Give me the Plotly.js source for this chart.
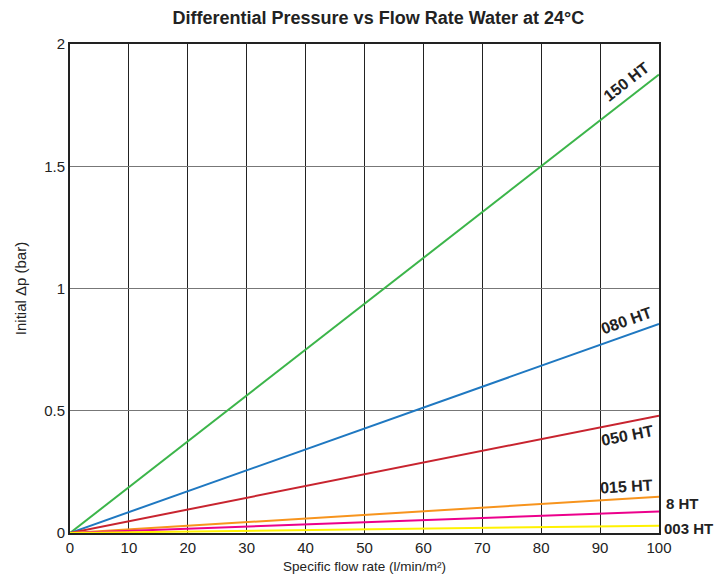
<!DOCTYPE html>
<html>
<head>
<meta charset="utf-8">
<script src="https://cdn.plot.ly/plotly-3.0.1.min.js"></script>
<style>html,body{margin:0;padding:0;background:#fff;}#chart{width:718px;height:580px;}</style>
</head>
<body>
<div id="chart"></div>
<script>
const flowRate = [0, 100];
const seriesNames = ["150 HT", "080 HT", "050 HT", "015 HT", "8 HT", "003 HT"];
const dp150 = [0, 1.875];
const dp080 = [0, 0.855];
const dp050 = [0, 0.48];
const dp015 = [0, 0.148];
const dp8 = [0, 0.088];
const dp003 = [0, 0.03];
const colors = ["#3cb54a", "#1f78c1", "#c8242f", "#f7941d", "#ec008c", "#fff200"];
const xTicks = [0,10,20,30,40,50,60,70,80,90,100];
const yTicks = [0,0.5,1,1.5,2];
const yTickText = ["0","0.5","1","1.5","2"];

const allY = [dp150, dp080, dp050, dp015, dp8, dp003];
const traces = allY.map((y,i)=>({
  x: flowRate, y: y, mode: "lines", name: seriesNames[i],
  line: {color: colors[i], width: 2}, hoverinfo: "x+y"
}));

const font = "'Liberation Sans', Arial, sans-serif";
const lblFont = {family: font, size: 16, color: "#222", weight: "bold"};
const sideFont = {family: font, size: 15, color: "#222", weight: "bold"};
const annotations = [
  {x: 95, y: 1.875*0.95, text: "150 HT", textangle: -38, xshift: -3, yshift: 16},
  {x: 95, y: 0.855*0.95, text: "080 HT", textangle: -19.5, xshift: -3, yshift: 14},
  {x: 95, y: 0.48*0.95, text: "050 HT", textangle: -11, xshift: -2, yshift: -14},
  {x: 95, y: 0.148*0.95, text: "015 HT", textangle: -3.5, xshift: -3, yshift: 12},
  {x: 100, y: 0.088, text: "8 HT", xanchor: "left", xshift: 5, yshift: 8, font: sideFont},
  {x: 100, y: 0.03, text: "003 HT", xanchor: "left", xshift: 3, yshift: -3, font: sideFont}
].map(a=>Object.assign({xref:"x", yref:"y", showarrow:false, font: lblFont}, a));

const layout = {
  width: 718, height: 580,
  margin: {l: 70, r: 59, t: 44, b: 47},
  paper_bgcolor: "#fff", plot_bgcolor: "#fff",
  showlegend: false,
  title: {text: "Differential Pressure vs Flow Rate Water at 24°C", x: 0.527, xanchor: "center", y: 0.97, yanchor: "middle",
          font: {family: font, size: 18, color: "#222", weight: "bold"}},
  xaxis: {range: [0,100], tickvals: xTicks, ticktext: xTicks.map(String), showgrid: true, gridcolor: "#222", gridwidth: 1,
          zeroline: false, showline: true, linecolor: "#222", linewidth: 2, mirror: true, ticks: "",
          tickfont: {family: font, size: 15, color: "#222"},
          title: {text: "Specific flow rate (l/min/m²)", font: {family: font, size: 13.5, color: "#222"}, standoff: 7}},
  yaxis: {range: [0,2], tickvals: yTicks, ticktext: yTickText, showgrid: true, gridcolor: "#777", gridwidth: 1,
          zeroline: false, showline: true, linecolor: "#222", linewidth: 2, mirror: true, ticks: "",
          tickfont: {family: font, size: 15, color: "#222"},
          title: {text: "Initial Δp (bar)", font: {family: font, size: 15, color: "#222"}, standoff: 14}},
  annotations: annotations
};
Plotly.newPlot("chart", traces, layout, {displayModeBar: false, staticPlot: true});
</script>
</body>
</html>
